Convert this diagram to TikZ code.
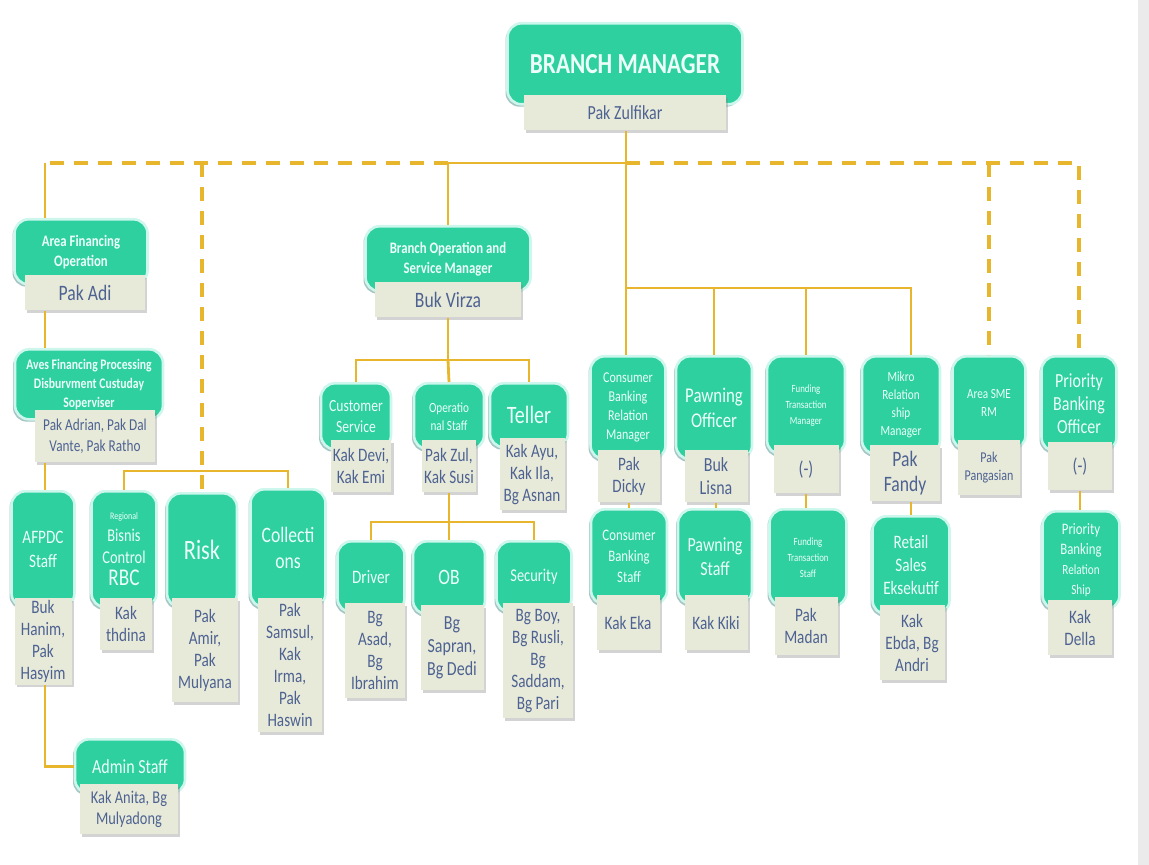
\documentclass[tikz,border=0pt]{standalone}
\usepackage{fontspec}
\setmainfont{Carlito}[FakeStretch=0.8]
\usetikzlibrary{shadows}
\definecolor{headgreen}{RGB}{46,208,160}
\definecolor{glow}{RGB}{205,246,236}
\definecolor{headtext}{RGB}{236,255,248}
\definecolor{cream}{RGB}{231,234,217}
\definecolor{whotext}{RGB}{78,98,146}
\definecolor{gold}{RGB}{232,182,44}
\newcommand{\fsz}[2]{\fontsize{#1}{#2}\selectfont}

\begin{document}
\begin{tikzpicture}[x=0.5pt,y=-0.5pt,
        head/.style = {
            anchor=north,
            draw=glow, line width=1.3pt,
            fill=headgreen,
            rounded corners=7pt,
            text=headtext,
            align=center,
            inner sep=1pt,
            drop shadow={shadow xshift=-1pt, shadow yshift=-1.2pt, opacity=.35, fill=teal!70!black}
        },
        who/.style = {
            anchor=north,
            fill=cream,
            text=whotext,
            align=center,
            inner sep=1pt,
            font=\fsz{9.5}{11},
            drop shadow={shadow xshift=1.2pt, shadow yshift=-1.2pt, opacity=.35}
        },
        link/.style = {draw=gold, line width=1.4pt},
        thinlink/.style = {draw=gold, line width=0.8pt},
        dashlink/.style = {draw=gold, line width=2.4pt, dash pattern=on 7pt off 5pt}]

        \useasboundingbox (0,0) rectangle (1149,865);
        \fill[black!8] (1138,0) rectangle (1149,865);

        % top
        \node[head, minimum width=117.5pt, minimum height=40.5pt, font=\bfseries\fsz{14.5}{16}] (bm) at (625,22) {BRANCH MANAGER};
        \node[who, minimum width=101pt, minimum height=17.5pt, font=\fsz{10}{11}] (bmn) at (625,95) {Pak Zulfikar};

        % left column
        \node[head, minimum width=66.5pt, minimum height=32.5pt, font=\bfseries\fsz{8}{10}] (afo) at (81,218) {Area Financing\\Operation};
        \node[who, minimum width=60pt, minimum height=17.5pt, font=\fsz{11}{12}] (afon) at (85,275) {Pak Adi};
        \node[head, minimum width=74pt, minimum height=35pt, font=\bfseries\fsz{7.3}{9.5}] (afp) at (89,348) {Aves Financing Processing\\Disburvment Custuday\\Soperviser};
        \node[who, minimum width=60pt, minimum height=26pt, font=\fsz{8.3}{10.5}] (afpn) at (95,410) {Pak Adrian, Pak Dal\\Vante, Pak Ratho};
        \node[head, minimum width=31.5pt, minimum height=58pt, font=\fsz{9.5}{12}] (afpdc) at (43,490) {AFPDC\\Staff};
        \node[who, minimum width=28.5pt, minimum height=42pt] (afpdcn) at (43,598) {Buk\\Hanim,\\Pak\\Hasyim};
        \node[head, minimum width=32.5pt, minimum height=58pt, font=\fsz{9}{11}] (rbc) at (124,490) {{\fsz{5}{6}Regional}\\Bisnis\\Control\\{\fsz{12}{14}RBC}};
        \node[who, minimum width=26pt, minimum height=26pt] (rbcn) at (126,598) {Kak\\thdina};
        \node[head, minimum width=35pt, minimum height=57pt, font=\fsz{14}{16}] (risk) at (202,492) {Risk};
        \node[who, minimum width=33pt, minimum height=52pt] (riskn) at (205,598) {Pak\\Amir,\\Pak\\Mulyana};
        \node[head, minimum width=37.5pt, minimum height=59pt, font=\fsz{11}{13}] (coll) at (288,488) {Collecti\\ons};
        \node[who, minimum width=32pt, minimum height=67pt] (colln) at (290,598) {Pak\\Samsul,\\Kak\\Irma,\\Pak\\Haswin};
        \node[head, minimum width=55pt, minimum height=27pt, font=\fsz{10}{12}] (admin) at (130,738) {Admin Staff};
        \node[who, minimum width=49pt, minimum height=25pt, font=\fsz{9}{10.5}] (adminn) at (129,784) {Kak Anita, Bg\\Mulyadong};

        % operation and service
        \node[head, minimum width=82.5pt, minimum height=32.5pt, font=\bfseries\fsz{8}{10}] (bosm) at (448,225) {Branch Operation and\\Service Manager};
        \node[who, minimum width=73pt, minimum height=17.5pt, font=\fsz{11}{12}] (bosmn) at (448,282) {Buk Virza};
        \node[head, minimum width=35pt, minimum height=33pt, font=\fsz{8.5}{10.5}] (cs) at (356,382) {Customer\\Service};
        \node[who, minimum width=30pt, minimum height=26pt] (csn) at (361,440) {Kak Devi,\\Kak Emi};
        \node[head, minimum width=35pt, minimum height=33pt, font=\fsz{7}{9}] (ops) at (449,382) {Operatio\\nal Staff};
        \node[who, minimum width=27pt, minimum height=26pt] (opsn) at (449,440) {Pak Zul,\\Kak Susi};
        \node[head, minimum width=39pt, minimum height=32pt, font=\fsz{12.5}{14}] (tel) at (529,382) {Teller};
        \node[who, minimum width=32.5pt, minimum height=36pt] (teln) at (532,438) {Kak Ayu,\\Kak Ila,\\Bg Asnan};
        \node[head, minimum width=33.5pt, minimum height=35.5pt, font=\fsz{9.5}{11}] (drv) at (371,540) {Driver};
        \node[who, minimum width=30pt, minimum height=47.5pt] (drvn) at (375,603) {Bg\\Asad,\\Bg\\Ibrahim};
        \node[head, minimum width=36pt, minimum height=36.5pt, font=\fsz{11}{13}] (ob) at (449,540) {OB};
        \node[who, minimum width=31.5pt, minimum height=42.5pt, font=\fsz{10}{11.5}] (obn) at (452,605) {Bg\\Sapran,\\Bg Dedi};
        \node[head, minimum width=37.5pt, minimum height=35.5pt, font=\fsz{9}{11}] (sec) at (534,540) {Security};
        \node[who, minimum width=35pt, minimum height=57.5pt] (secn) at (538,603) {Bg Boy,\\Bg Rusli,\\Bg\\Saddam,\\Bg Pari};

        % right group, first row
        \node[head, minimum width=37.5pt, minimum height=51.5pt, font=\fsz{7.5}{9.5}] (cbrm) at (628,355) {Consumer\\Banking\\Relation\\Manager};
        \node[who, minimum width=31pt, minimum height=26pt] (cbrmn) at (629,450) {Pak\\Dicky};
        \node[head, minimum width=38pt, minimum height=51.5pt, font=\fsz{10.5}{12.5}] (pwo) at (714,355) {Pawning\\Officer};
        \node[who, minimum width=31.5pt, minimum height=26pt, font=\fsz{10}{11.5}] (pwon) at (716,450) {Buk\\Lisna};
        \node[head, minimum width=39pt, minimum height=49pt, font=\fsz{5.5}{8}] (ftm) at (806,355) {Funding\\Transaction\\Manager};
        \node[who, minimum width=32.5pt, minimum height=24pt, font=\fsz{10}{11}] (ftmn) at (806,445) {(-)};
        \node[head, minimum width=39pt, minimum height=49pt, font=\fsz{7}{9}] (mrm) at (901,355) {Mikro\\Relation\\ship\\Manager};
        \node[who, minimum width=35pt, minimum height=28pt, font=\fsz{11}{12.5}] (mrmn) at (905,445) {Pak\\Fandy};
        \node[head, minimum width=36.5pt, minimum height=46.5pt, font=\fsz{7}{9}] (sme) at (989,355) {Area SME\\RM};
        \node[who, minimum width=31pt, minimum height=27.5pt, font=\fsz{7.5}{9}] (smen) at (989,440) {Pak\\Pangasian};
        \node[head, minimum width=37.5pt, minimum height=47.5pt, font=\fsz{10}{11.5}] (pbo) at (1079,355) {Priority\\Banking\\Officer};
        \node[who, minimum width=32pt, minimum height=24pt, font=\fsz{10}{11}] (pbon) at (1080,442) {(-)};

        % right group, second row
        \node[head, minimum width=38pt, minimum height=47.5pt, font=\fsz{8}{10.5}] (cbs) at (629,508) {Consumer\\Banking\\Staff};
        \node[who, minimum width=31.5pt, minimum height=27.5pt] (cbsn) at (628,595) {Kak Eka};
        \node[head, minimum width=37pt, minimum height=47.5pt, font=\fsz{10}{12}] (pws) at (715,508) {Pawning\\Staff};
        \node[who, minimum width=31.5pt, minimum height=27.5pt] (pwsn) at (716,595) {Kak Kiki};
        \node[head, minimum width=38.5pt, minimum height=48.5pt, font=\fsz{5.5}{8}] (fts) at (808,508) {Funding\\Transaction\\Staff};
        \node[who, minimum width=31.5pt, minimum height=29pt] (ftsn) at (806,597) {Pak\\Madan};
        \node[head, minimum width=38.5pt, minimum height=49pt, font=\fsz{9.5}{11.5}] (rse) at (911,515) {Retail\\Sales\\Eksekutif};
        \node[who, minimum width=32.5pt, minimum height=37.5pt] (rsen) at (912,605) {Kak\\Ebda, Bg\\Andri};
        \node[head, minimum width=38.5pt, minimum height=49pt, font=\fsz{8}{10}] (pbr) at (1081,510) {Priority\\Banking\\{\fsz{7}{9}Relation}\\{\fsz{7}{9}Ship}};
        \node[who, minimum width=32pt, minimum height=27.5pt] (pbrn) at (1080,600) {Kak\\Della};

        \coordinate (busT) at (626,163);
        \coordinate (busR) at (626,288);
        \coordinate (busM) at (448,360);
        \coordinate (busS) at (449,522);
        \coordinate (busL) at (202,471);
        \coordinate (lv) at (45,163);

        % solid lines
        \draw[link] (bmn.south -| busT) -- (busR);
        \draw[link] (busR) -- (cbrm.north -| busR);
        \draw[link] (busR) -| (pwo.north);
        \draw[link] (busR) -| (ftm.north);
        \draw[link] (busR) -| (rse.north |- mrm.north);
        \draw[link] (busT) -| (bosm.north);
        \draw[link] (bosmn.south) -- (busM);
        \draw[link] (busM) -| (cs.north);
        \draw[link] (busM) -| (tel.north);
        \draw[link] (busM) -- (ops.north);
        \draw[link] (opsn.south) -- (busS);
        \draw[link] (busS) -| (drv.north);
        \draw[link] (busS) -| (sec.north);
        \draw[link] (busS) -- (ob.north);
        \draw[link] (cbrmn.south) -- (cbs.north -| cbrmn.south);
        \draw[link] (pwon.south) -- (pws.north -| pwon.south);
        \draw[link] (ftmn.south) -- (fts.north -| ftmn.south);
        \draw[link] (mrmn.south -| rse.north) -- (rse.north);
        \draw[link] (pbon.south) -- (pbr.north -| pbon.south);
        \draw[link] (rbc.north) |- (busL) -| (coll.north);
        \draw[link] (afpdcn.south -| lv) |- (admin.west);

        % left thin lines
        \draw[thinlink] (lv) -- (lv |- afo.north);
        \draw[thinlink] (lv |- afon.south) -- (lv |- afp.north);
        \draw[thinlink] (lv |- afpn.south) -- (lv |- afpdc.north);

        % dashed lines
        \draw[dashlink] (busT) -| (pbo.north);
        \draw[dashlink] (sme.north |- busT) -- (sme.north);
        \draw[dashlink] (bosm.north |- busT) -- (lv);
        \draw[dashlink] (risk.north |- busT) -- (risk.north);
    \end{tikzpicture}
\end{document}
